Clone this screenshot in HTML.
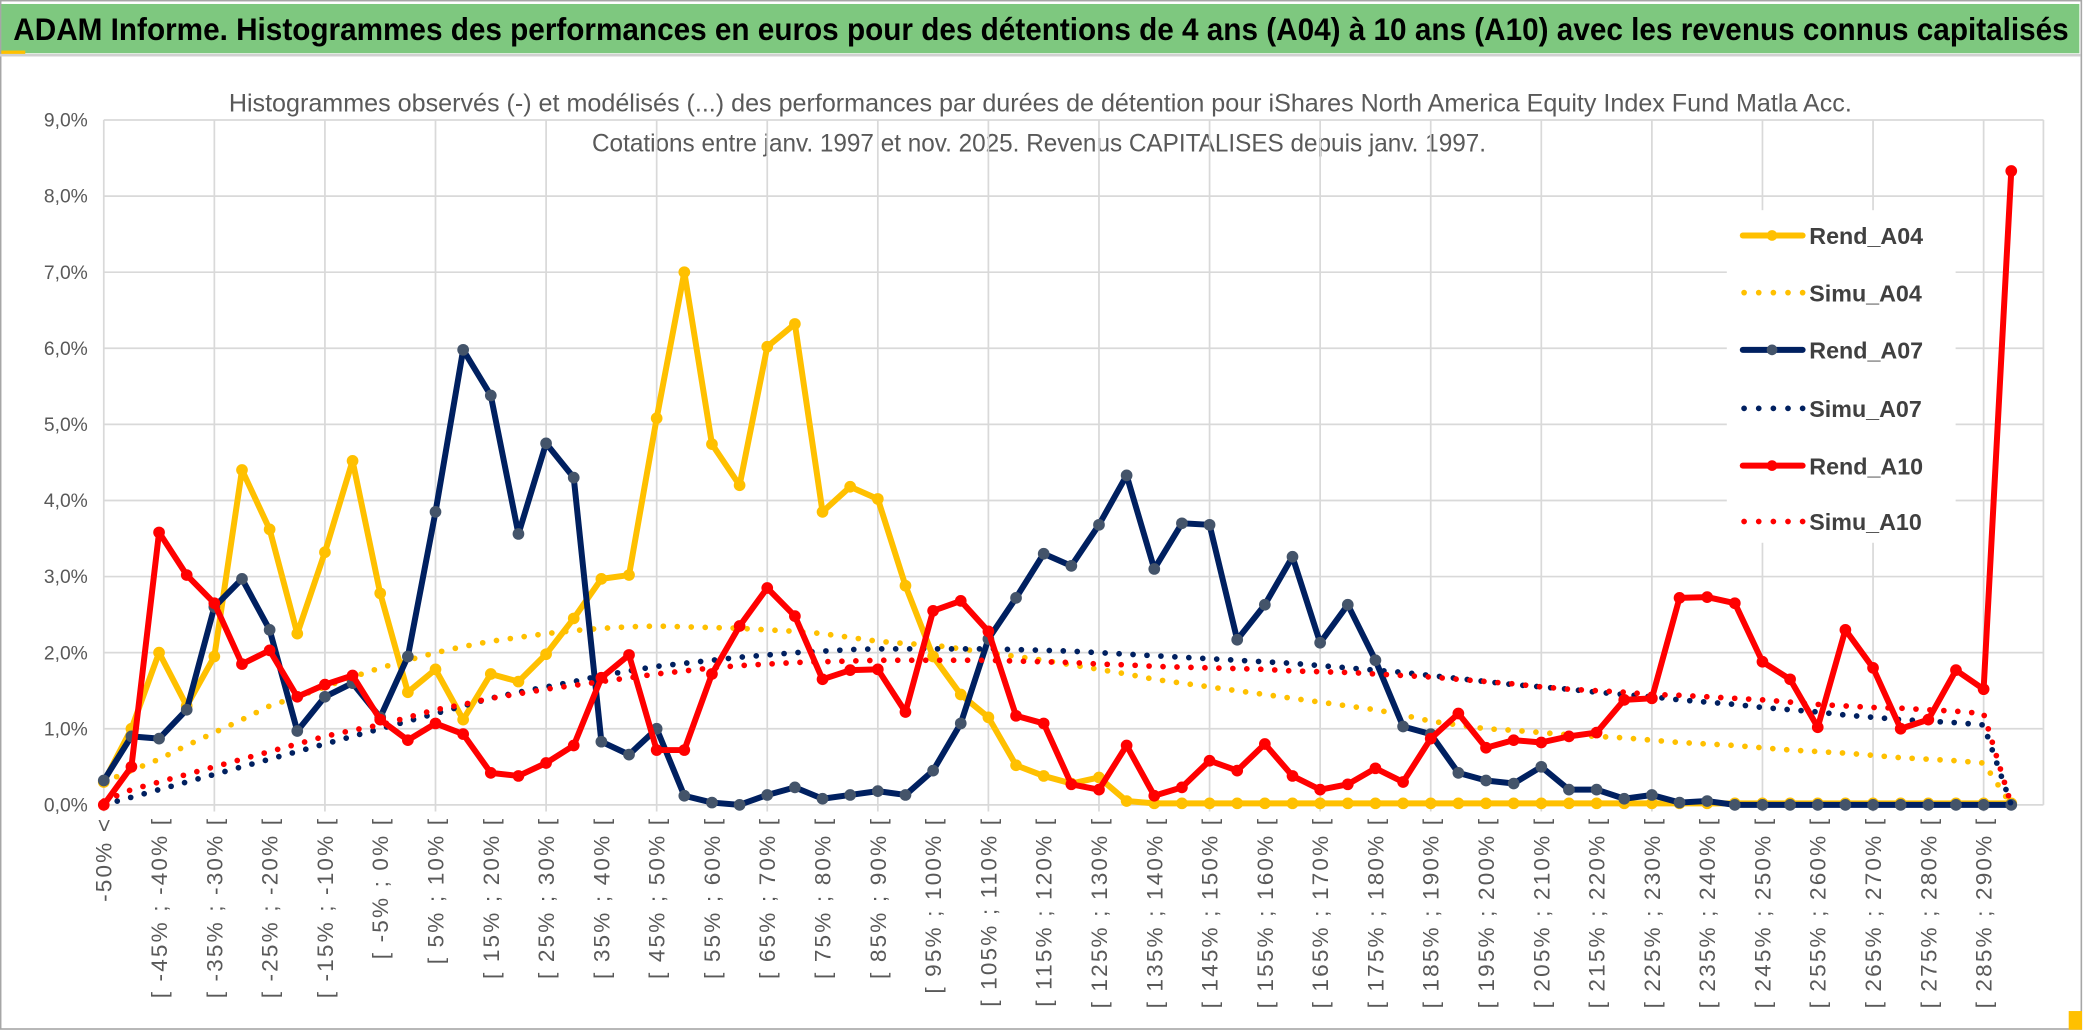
<!DOCTYPE html>
<html><head><meta charset="utf-8">
<style>
html,body{margin:0;padding:0;background:#fff;}
svg{display:block;}
text{font-family:"Liberation Sans",sans-serif;}
</style></head>
<body>
<svg id="chart" width="2086" height="1033" viewBox="0 0 1568 776.5" preserveAspectRatio="none" xmlns="http://www.w3.org/2000/svg">
  <rect x="0" y="0" width="1568" height="776.5" fill="#fff"/>
  <rect x="0.5" y="0.5" width="1564" height="773" fill="none" stroke="#a6a6a6" stroke-width="1.2"/>
  <rect x="1" y="3" width="1562" height="37" fill="#7ec87f"/>
  <rect x="1" y="38" width="18" height="3" fill="#ffc000"/>
  <line x1="0" y1="41.5" x2="1564" y2="41.5" stroke="#d0d0d0" stroke-width="2"/>
  <text x="10" y="30" font-size="24" font-weight="bold" fill="#000" textLength="1545" lengthAdjust="spacingAndGlyphs">ADAM Informe. Histogrammes des performances en euros pour des détentions de 4 ans (A04) à 10 ans (A10) avec les revenus connus capitalisés</text>
  <rect x="1555" y="760" width="10" height="14" fill="#ffc000"/>
  <text x="172" y="84" font-size="18.5" fill="#595959" textLength="1220" lengthAdjust="spacingAndGlyphs">Histogrammes observés (-) et modélisés (...) des performances par durées de détention pour iShares North America Equity Index Fund Matla Acc.</text>
  <text x="445" y="114" font-size="18.5" fill="#595959" textLength="672" lengthAdjust="spacingAndGlyphs">Cotations entre janv. 1997 et nov. 2025. Revenus CAPITALISES depuis janv. 1997.</text>
  <g id="grid"></g>
  <g id="ylabels"></g>
  <g id="xlabels"></g>
  <g id="series"></g>
  <g id="legend"></g>
</svg>
<script>
const categories = [];
categories.push("-50% <");
for (let k = 1; k < 70; k++) { categories.push("[ " + (-55 + 5 * k) + "% ; " + (-50 + 5 * k) + "% ["); }
const yTicks = [0,1,2,3,4,5,6,7,8,9];
const yTickLabels = ["0,0%","1,0%","2,0%","3,0%","4,0%","5,0%","6,0%","7,0%","8,0%","9,0%"];
const rendA04 = [0.3,1.0,2.0,1.3,1.95,4.4,3.62,2.25,3.32,4.52,2.78,1.48,1.78,1.12,1.72,1.62,1.98,2.45,2.97,3.02,5.08,7.0,4.74,4.2,6.02,6.32,3.85,4.18,4.02,2.88,1.95,1.45,1.15,0.52,0.38,0.28,0.36,0.05,0.02,0.02,0.02,0.02,0.02,0.02,0.02,0.02,0.02,0.02,0.02,0.02,0.02,0.02,0.02,0.02,0.02,0.02,0.02,0.02,0.02,0.02,0.02,0.02,0.02,0.02,0.02,0.02,0.02,0.02,0.02,0.02];
const simuA04 = [0.3,0.45,0.6,0.78,0.95,1.12,1.3,1.42,1.55,1.68,1.8,1.9,2.0,2.08,2.15,2.2,2.25,2.29,2.32,2.34,2.35,2.34,2.33,2.32,2.3,2.28,2.25,2.2,2.15,2.12,2.1,2.05,2.0,1.95,1.9,1.84,1.78,1.72,1.65,1.6,1.55,1.5,1.45,1.4,1.35,1.3,1.25,1.18,1.1,1.05,1.0,0.98,0.95,0.92,0.9,0.88,0.85,0.82,0.8,0.78,0.75,0.72,0.7,0.68,0.65,0.62,0.6,0.58,0.55,0.0];
const rendA07 = [0.32,0.9,0.87,1.25,2.6,2.97,2.3,0.97,1.42,1.6,1.15,1.95,3.85,5.98,5.38,3.56,4.75,4.3,0.83,0.66,1.0,0.12,0.03,0.0,0.13,0.23,0.08,0.13,0.18,0.13,0.45,1.07,2.18,2.72,3.3,3.14,3.68,4.33,3.1,3.7,3.68,2.17,2.63,3.26,2.13,2.63,1.9,1.03,0.93,0.42,0.32,0.28,0.5,0.2,0.2,0.08,0.13,0.03,0.05,0,0,0,0,0,0,0,0,0,0,0];
const simuA07 = [0.0,0.1,0.2,0.3,0.4,0.5,0.6,0.7,0.8,0.9,1.0,1.1,1.2,1.3,1.4,1.48,1.55,1.62,1.7,1.76,1.82,1.86,1.9,1.94,1.97,2.0,2.02,2.04,2.05,2.05,2.05,2.05,2.05,2.04,2.03,2.02,2.0,1.98,1.96,1.94,1.92,1.9,1.88,1.86,1.83,1.8,1.77,1.74,1.7,1.66,1.62,1.58,1.55,1.52,1.48,1.45,1.42,1.38,1.35,1.32,1.28,1.25,1.22,1.18,1.15,1.12,1.1,1.08,1.05,0.0];
const rendA10 = [0.0,0.5,3.58,3.02,2.65,1.85,2.03,1.42,1.58,1.7,1.12,0.85,1.07,0.93,0.42,0.38,0.55,0.78,1.67,1.97,0.72,0.72,1.72,2.35,2.85,2.48,1.65,1.77,1.78,1.22,2.55,2.68,2.28,1.17,1.07,0.27,0.2,0.78,0.12,0.23,0.58,0.45,0.8,0.38,0.2,0.27,0.48,0.3,0.87,1.2,0.75,0.85,0.82,0.9,0.95,1.38,1.4,2.72,2.73,2.65,1.88,1.65,1.02,2.3,1.8,1.0,1.12,1.77,1.52,8.33];
const simuA10 = [0.05,0.2,0.3,0.4,0.5,0.6,0.7,0.8,0.9,0.98,1.05,1.15,1.25,1.32,1.4,1.46,1.52,1.57,1.62,1.67,1.72,1.76,1.8,1.83,1.85,1.87,1.88,1.89,1.9,1.9,1.9,1.9,1.9,1.89,1.88,1.87,1.85,1.84,1.82,1.81,1.8,1.79,1.78,1.76,1.75,1.74,1.72,1.7,1.68,1.65,1.62,1.59,1.55,1.52,1.5,1.48,1.45,1.44,1.42,1.4,1.38,1.35,1.32,1.3,1.28,1.27,1.25,1.23,1.2,0.0];

const NS = "http://www.w3.org/2000/svg";
const X0 = 78, DX = 20.78, Y0 = 605, DY = 57.2, XR = 1536;
function xAt(i) { return X0 + i * DX; }
function yAt(v) { return Y0 - v * DY; }
function mk(tag, attrs, parent) {
  const e = document.createElementNS(NS, tag);
  for (const k in attrs) e.setAttribute(k, attrs[k]);
  parent.appendChild(e);
  return e;
}
const grid = document.getElementById("grid");
yTicks.forEach(function (t) {
  const l = mk("line", {x1: X0, x2: XR, y1: yAt(t), y2: yAt(t), stroke: "#d9d9d9", "stroke-width": 1.3}, grid);
  
  
});
for (let i = 0; i < categories.length; i += 4) {
  const l = mk("line", {x1: xAt(i), x2: xAt(i), y1: yAt(9), y2: Y0 + 5, stroke: "#d9d9d9", "stroke-width": 1.3}, grid);
  
  
}
mk("line", {x1: XR, x2: XR, y1: yAt(9), y2: Y0, stroke: "#d9d9d9", "stroke-width": 1.3}, grid);

const yl = document.getElementById("ylabels");
yTicks.forEach(function (t, k) {
  const tx = mk("text", {x: 66, y: yAt(t) + 5, "text-anchor": "end", "font-size": 14.5, fill: "#595959"}, yl);
  tx.textContent = yTickLabels[k];
  
  
});
const xl = document.getElementById("xlabels");
for (let i = 0; i < categories.length; i += 2) {
  const x = xAt(i) + 6, y = 614;
  const tx = mk("text", {x: x, y: y, "text-anchor": "end", "font-size": 17, "letter-spacing": 1.6, fill: "#595959", transform: "rotate(-90 " + x + " " + y + ")"}, xl);
  tx.textContent = categories[i];
  
  
}

const seriesG = document.getElementById("series");
function pathOf(arr) { return arr.map(function (v, i) { return (i ? "L" : "M") + xAt(i).toFixed(2) + " " + yAt(v).toFixed(2); }).join(" "); }
function dotted(arr, color, name) {
  const p = mk("path", {d: pathOf(arr), fill: "none", stroke: color, "stroke-width": 4.3, "stroke-linecap": "round", "stroke-dasharray": "0 10.5"}, seriesG);
  
  
}
function solid(arr, color, mcolor, name) {
  const g = mk("g", {}, seriesG);
  
  
  mk("path", {d: pathOf(arr), fill: "none", stroke: color, "stroke-width": 4.5, "stroke-linejoin": "round"}, g);
  arr.forEach(function (v, i) {
    const c = mk("circle", {cx: xAt(i), cy: yAt(v), r: 4.4, fill: mcolor}, g);
    
    
  });
}
solid(rendA04, "#ffc000", "#ffc000", "series-rend-a04");
dotted(simuA04, "#ffc000", "series-simu-a04");
solid(rendA07, "#002060", "#44546a", "series-rend-a07");
dotted(simuA07, "#002060", "series-simu-a07");
dotted(simuA10, "#ff0000", "series-simu-a10");
solid(rendA10, "#ff0000", "#ff0000", "series-rend-a10");

const leg = document.getElementById("legend");
mk("rect", {x: 1298, y: 158, width: 172, height: 250, fill: "#fff"}, leg);
const legendItems = [
  ["Rend_A04", "#ffc000", "#ffc000", false, 177],
  ["Simu_A04", "#ffc000", null, true, 220],
  ["Rend_A07", "#002060", "#44546a", false, 263],
  ["Simu_A07", "#002060", null, true, 307],
  ["Rend_A10", "#ff0000", "#ff0000", false, 350],
  ["Simu_A10", "#ff0000", null, true, 392]
];
legendItems.forEach(function (it) {
  const g = mk("g", {}, leg);
  
  
  const y = it[4];
  if (it[3]) {
    mk("line", {x1: 1311, x2: 1356, y1: y, y2: y, stroke: it[1], "stroke-width": 4.3, "stroke-linecap": "round", "stroke-dasharray": "0 11"}, g);
  } else {
    mk("line", {x1: 1310, x2: 1355, y1: y, y2: y, stroke: it[1], "stroke-width": 4.5, "stroke-linecap": "round"}, g);
    mk("circle", {cx: 1332, cy: y, r: 4, fill: it[2]}, g);
  }
  const t = mk("text", {x: 1360, y: y + 6.5, "font-size": 17.5, "font-weight": "bold", fill: "#404040"}, g);
  t.textContent = it[0];
});
</script>
</body></html>
